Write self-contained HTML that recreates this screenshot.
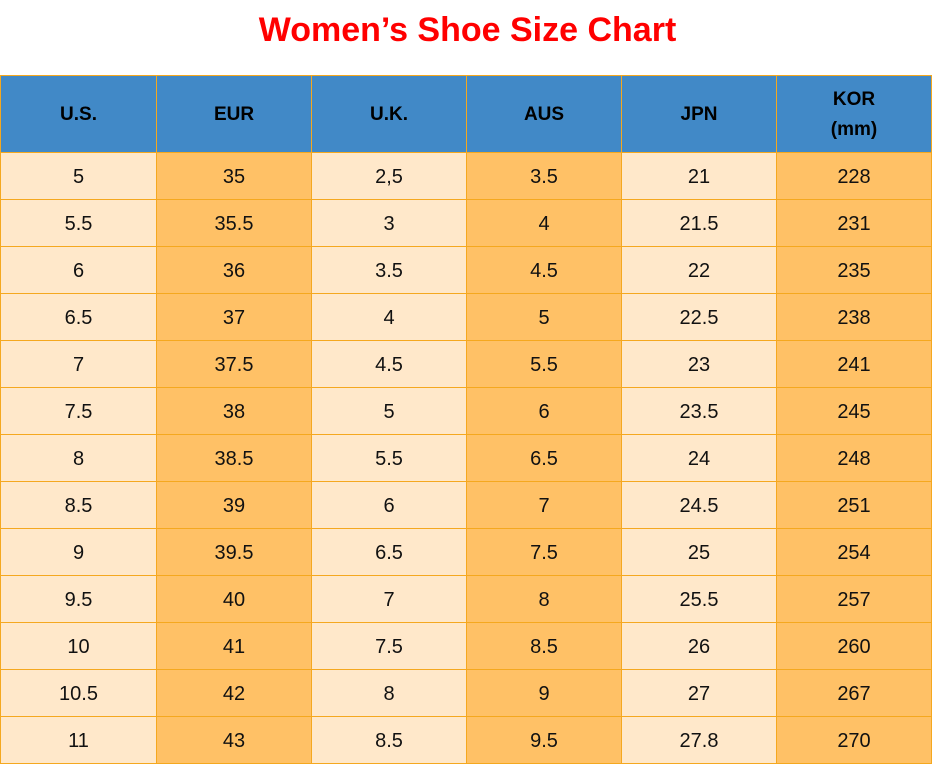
<!DOCTYPE html>
<html><head><style>
body{margin:0;width:935px;height:765px;background:#fff;font-family:"Liberation Sans",Arial,sans-serif;position:relative;overflow:hidden}
.t{position:absolute;top:10px;left:0;width:935px;text-align:center;color:#ff0000;font-weight:bold;font-size:34px;line-height:40px}
.c{position:absolute;box-sizing:border-box;display:flex;align-items:center;justify-content:center;text-align:center;font-size:20px;color:#111;border-right:1px solid #f5a81f;border-bottom:1px solid #f5a81f;padding-top:3px}
.h{background:#4189c7;font-weight:bold;font-size:19px;line-height:30px;padding-top:2px;color:#000}
.l{background:#ffe8ca}.o{background:#ffc166}
</style></head><body>
<div class="t">Women’s Shoe Size Chart</div>
<div id="g"></div>
<script>
var xs=[1,156,311,466,621,776,931];
var H=["U.S.","EUR","U.K.","AUS","JPN","KOR<br>(mm)"];
var D=[["5","35","2,5","3.5","21","228"],["5.5","35.5","3","4","21.5","231"],["6","36","3.5","4.5","22","235"],["6.5","37","4","5","22.5","238"],["7","37.5","4.5","5.5","23","241"],["7.5","38","5","6","23.5","245"],["8","38.5","5.5","6.5","24","248"],["8.5","39","6","7","24.5","251"],["9","39.5","6.5","7.5","25","254"],["9.5","40","7","8","25.5","257"],["10","41","7.5","8.5","26","260"],["10.5","42","8","9","27","267"],["11","43","8.5","9.5","27.8","270"]];
var s="";
for(var j=0;j<6;j++){var bl=j==0?"border-left:1px solid #f5a81f;":"";var L=j==0?0:xs[j]+1;var W=xs[j+1]+1-L;
s+='<div class="c h" style="'+bl+'border-top:1px solid #f5a81f;left:'+L+'px;top:75px;width:'+W+'px;height:78px">'+H[j]+'</div>';
for(var i=0;i<13;i++){s+='<div class="c '+(j%2?'o':'l')+'" style="'+bl+'left:'+L+'px;top:'+(153+i*47)+'px;width:'+W+'px;height:47px">'+D[i][j]+'</div>';}}
document.getElementById("g").innerHTML=s;
</script>
</body></html>
